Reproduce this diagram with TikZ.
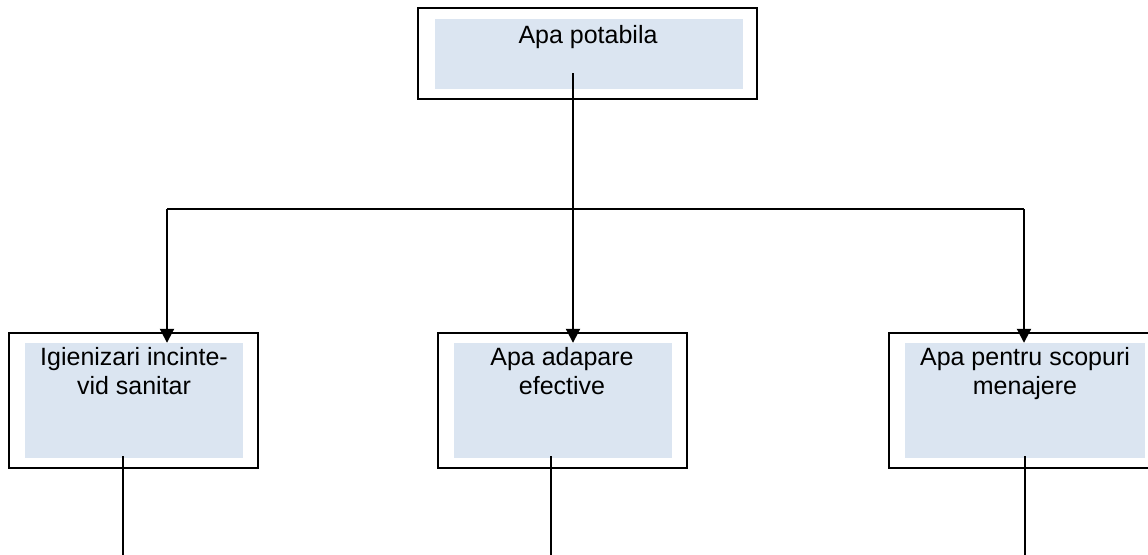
\documentclass[tikz,border=0pt]{standalone}
\usepackage{fontspec}
\setmainfont{Liberation Sans}
\usetikzlibrary{arrows.meta}
\definecolor{boxfill}{RGB}{219,229,241}
\begin{document}
\begin{tikzpicture}[x=1pt,y=-1pt,
  outerbox/.style={draw=black,line width=2.4pt,fill=white,inner sep=0pt},
  innerbox/.style={fill=boxfill,inner sep=0pt},
  lbl/.style={font=\fontsize{25}{29}\selectfont,align=center,inner sep=0pt,anchor=north},
  conn/.style={line width=2pt},
  arr/.style={conn,-{Triangle[width=14pt,length=14pt]}}]
\useasboundingbox (0,0) rectangle (1148,554);
\clip (0,0) rectangle (1148,554);
\fill[white] (0,0) rectangle (1148,554);
% outer frames
\node[outerbox,minimum width=339pt,minimum height=91pt] (top) at (587.5,53.5) {};
\node[outerbox,minimum width=249pt,minimum height=135pt] (left) at (133.5,400.5) {};
\node[outerbox,minimum width=249pt,minimum height=135pt] (mid) at (562.5,400.5) {};
\node[outerbox,minimum width=272pt,minimum height=135pt] (right) at (1025,400.5) {};
% inner fills
\node[innerbox,minimum width=308pt,minimum height=70pt] (topin) at (589,54) {};
\node[innerbox,minimum width=218pt,minimum height=115pt] (leftin) at (134,400.5) {};
\node[innerbox,minimum width=218pt,minimum height=115pt] (midin) at (563,400.5) {};
\node[innerbox,minimum width=240pt,minimum height=115pt] (rightin) at (1025,400.5) {};
% labels
\node[lbl] (toptxt) at (588,25.5) {Apa potabila};
\node[lbl] (lefttxt) at (134,347.5) {Igienizari incinte-\\vid sanitar};
\node[lbl] (midtxt) at (562,347.5) {Apa adapare\\efective};
\node[lbl] (righttxt) at (1025,347.5) {Apa pentru scopuri\\menajere};
% connectors
\coordinate (topstart) at (573,73);
\coordinate (jmid) at (573,209);
\coordinate (jleft) at (167,209);
\coordinate (jright) at (1024,209);
\draw[conn] (topstart) -- (jmid);
\draw[conn] (jleft) -- (jright);
\draw[arr] (jmid) -- (jmid |- midin.north);
\draw[arr] (jleft) -- (jleft |- leftin.north);
\draw[arr] (jright) -- (jright |- rightin.north);
\coordinate (lb) at (123,456);
\coordinate (lbend) at (123,560);
\coordinate (mb) at (551,456);
\coordinate (mbend) at (551,560);
\coordinate (rb) at (1025,456);
\coordinate (rbend) at (1025,560);
\draw[conn] (lb) -- (lbend);
\draw[conn] (mb) -- (mbend);
\draw[conn] (rb) -- (rbend);
\end{tikzpicture}
\end{document}
